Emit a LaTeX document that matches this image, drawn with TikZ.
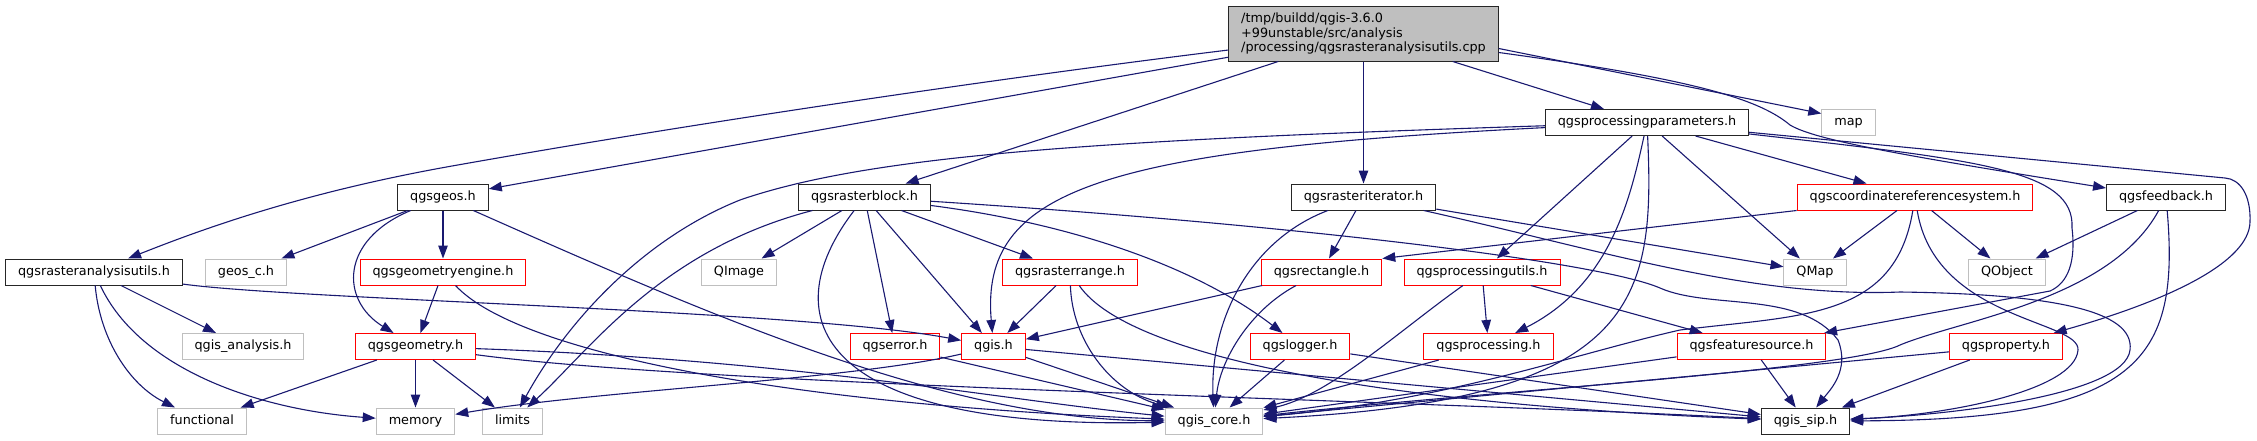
\documentclass[tikz,border=0pt]{standalone}
\usepackage{fontspec}
\setmainfont{DejaVu Sans}
\usetikzlibrary{arrows.meta,calc}
\definecolor{depblue}{RGB}{25,25,112}
\definecolor{sysgrey}{RGB}{191,191,191}

\begin{document}
\begin{tikzpicture}[
  x=1pt, y=-1pt,
  font=\fontsize{12.8}{14.7}\selectfont,
  nbox/.style={line width=1pt, inner xsep=12.5pt, inner ysep=0pt, minimum height=26pt, text height=9.6pt, text depth=3pt},
  hdr/.style={nbox, draw=black!85},
  sys/.style={nbox, draw=sysgrey},
  part/.style={nbox, draw=red},
  rootbox/.style={draw=black!85, fill=sysgrey, line width=1pt, inner xsep=12.5pt, inner ysep=6pt, align=left, minimum height=55pt},
  dep/.style={draw=depblue, line width=1.1pt, -{Triangle[length=13pt,width=9.5pt]}},
]
\useasboundingbox (0,0) rectangle (2257,440);

\node[rootbox] (root) at (1363.5,33.5) {/tmp/buildd/qgis-3.6.0\\+99unstable/src/analysis\\/processing/qgsrasteranalysisutils.cpp};
\node[hdr] (pparams) at (1647,122.5) {qgsprocessingparameters.h};
\node[sys] (map) at (1848.5,122.5) {map};
\node[hdr] (geos) at (443,197) {qgsgeos.h};
\node[hdr] (rblock) at (864.5,197) {qgsrasterblock.h};
\node[hdr] (riter) at (1363.5,197) {qgsrasteriterator.h};
\node[part] (crs) at (1915,197) {qgscoordinatereferencesystem.h};
\node[hdr] (feedback) at (2166,197) {qgsfeedback.h};
\node[hdr] (rautils) at (94,272) {qgsrasteranalysisutils.h};
\node[sys] (geosc) at (246,272) {geos\_c.h};
\node[part] (gengine) at (443,272) {qgsgeometryengine.h};
\node[sys] (qimage) at (739,272) {QImage};
\node[part] (rrange) at (1070,272) {qgsrasterrange.h};
\node[part] (rect) at (1321.5,272) {qgsrectangle.h};
\node[part] (putils) at (1482,272) {qgsprocessingutils.h};
\node[sys] (qmap) at (1815,272) {QMap};
\node[sys] (qobject) at (2007,272) {QObject};
\node[sys] (qanalysis) at (243,346.5) {qgis\_analysis.h};
\node[part] (geom) at (415.5,346.5) {qgsgeometry.h};
\node[part] (qerror) at (895,346.5) {qgserror.h};
\node[part] (qgish) at (993.5,346.5) {qgis.h};
\node[part] (logger) at (1300,346.5) {qgslogger.h};
\node[part] (proc) at (1488.5,346.5) {qgsprocessing.h};
\node[part] (fsource) at (1751.5,346.5) {qgsfeaturesource.h};
\node[part] (prop) at (2006,346.5) {qgsproperty.h};
\node[sys] (functional) at (202,421) {functional};
\node[sys] (memory) at (415.5,421) {memory};
\node[sys] (limits) at (512.5,421) {limits};
\node[sys] (core) at (1214,421) {qgis\_core.h};
\node[hdr] (sip) at (1805.5,421) {qgis\_sip.h};

\draw[dep] (root) .. controls (1000,78) and (700,122) .. (452,166) .. controls (300,193) and (200,230) .. (rautils);
\draw[dep] (root) -- (geos);
\draw[dep] (root) -- (rblock);
\draw[dep] (root) -- (riter);
\draw[dep] (root) -- (pparams);
\draw[dep] ($(root.east)+(0,15)$) -- ($(map.west)+(0,-9)$);
\draw[dep] ($(root.east)+(0,19)$) .. controls (1700,80) and (1760,100) .. (1790,125) .. controls (1815,140) and (1900,155) .. ($(feedback.west)+(0,-9)$);

\draw[dep] (pparams) .. controls (1100,140) and (870,155) .. (740,200) .. controls (640,240) and (565,325) .. (limits);
\draw[dep] (pparams) .. controls (1100,150) and (980,190) .. (qgish);
\draw[dep] (pparams) -- (putils);
\draw[dep] (pparams) .. controls (1630,200) and (1610,285) .. (proc);
\draw[dep] (pparams) .. controls (1655,300) and (1640,400) .. (core);
\draw[dep] (pparams) -- (qmap);
\draw[dep] (pparams) -- (crs);
\draw[dep] (pparams) -- (2225,178) .. controls (2240,179) and (2251,195) .. (2250,222) .. controls (2249,262) and (2170,300) .. (prop);
\draw[dep] (pparams) .. controls (1980,160) and (2075,170) .. (2072,228) .. controls (2076,262) and (2068,283) .. (2050,291) -- (fsource);

\draw[dep] (geos) -- (geosc);
\draw[dep] (geos) -- (gengine);
\draw[dep] (geos) .. controls (340,240) and (340,300) .. (geom);
\draw[dep] (geos) .. controls (720,320) and (950,420) .. (core);

\draw[dep] (rblock) .. controls (660,250) and (590,350) .. (limits);
\draw[dep] (rblock) -- (qimage);
\draw[dep] (rblock) .. controls (770,320) and (820,430) .. (core);
\draw[dep] (rblock) -- (qerror);
\draw[dep] (rblock) -- (qgish);
\draw[dep] (rblock) -- (rrange);
\draw[dep] (rblock) .. controls (1060,222) and (1190,262) .. (logger);
\draw[dep] (rblock) .. controls (1300,225) and (1600,262) .. (1660,288) .. controls (1710,310) and (1800,290) .. (1838,340) .. controls (1850,370) and (1830,390) .. (sip);

\draw[dep] (riter) .. controls (1250,240) and (1210,320) .. (core);
\draw[dep] (riter) -- (rect);
\draw[dep] (riter) -- (qmap);
\draw[dep] (riter) .. controls (1600,250) and (1750,298) .. (1900,292) .. controls (2050,294) and (2135,310) .. (2130,350) .. controls (2125,395) and (1950,415) .. (sip);

\draw[dep] (crs.south west) -- (rect.north east);
\draw[dep] (crs) -- (qmap);
\draw[dep] (crs) -- (qobject);
\draw[dep] (crs) .. controls (1895,320) and (1800,315) .. (1680,330) .. controls (1570,355) and (1450,400) .. (core);
\draw[dep] (crs) .. controls (1935,320) and (2080,320) .. (2078,350) .. controls (2075,390) and (1950,415) .. (sip);

\draw[dep] (feedback) -- (qobject);
\draw[dep] (feedback) .. controls (2110,300) and (1960,320) .. (1900,345) .. controls (1850,370) and (1500,390) .. (core);
\draw[dep] (feedback) .. controls (2180,360) and (2140,420) .. (sip);

\draw[dep] (rautils) .. controls (100,340) and (130,385) .. (functional);
\draw[dep] (rautils) .. controls (140,370) and (260,410) .. (memory);
\draw[dep] (rautils) -- (qanalysis);
\draw[dep] (rautils) .. controls (300,300) and (800,310) .. (qgish);

\draw[dep] (gengine) -- (geom);
\draw[dep] (gengine) .. controls (520,355) and (800,405) .. (core);

\draw[dep] (rrange) -- (qgish);
\draw[dep] (rrange) .. controls (1072,340) and (1110,390) .. (core);
\draw[dep] (rrange) .. controls (1130,360) and (1400,405) .. (sip);

\draw[dep] (rect) -- (qgish);
\draw[dep] (rect) .. controls (1250,310) and (1220,360) .. (core);

\draw[dep] (putils) -- (proc);
\draw[dep] (putils) -- (fsource);
\draw[dep] (putils) .. controls (1400,330) and (1330,395) .. (core);

\draw[dep] (geom) -- (functional);
\draw[dep] (geom) -- (memory);
\draw[dep] (geom) -- (limits);
\draw[dep] (geom) .. controls (800,360) and (1000,400) .. (core);
\draw[dep] (geom) .. controls (700,385) and (1400,400) .. (sip);

\draw[dep] (qerror) -- (core);
\draw[dep] (qgish) .. controls (850,380) and (600,390) .. (memory);
\draw[dep] (qgish) -- (core);
\draw[dep] (qgish) -- (sip);
\draw[dep] (logger) -- (core);
\draw[dep] (logger) -- (sip);
\draw[dep] (proc) -- (core);
\draw[dep] (fsource) -- (core);
\draw[dep] (fsource) -- (sip);
\draw[dep] (prop) -- (core);
\draw[dep] (prop) -- (sip);
\end{tikzpicture}
\end{document}
